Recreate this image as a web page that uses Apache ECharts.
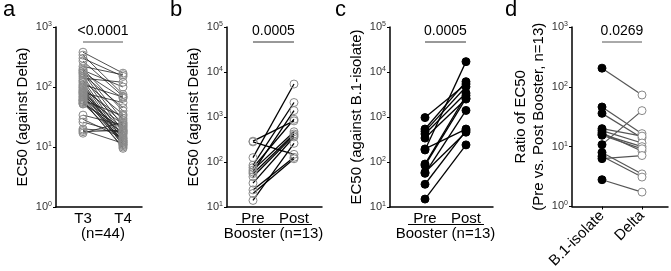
<!DOCTYPE html>
<html><head><meta charset="utf-8">
<script src="https://cdn.jsdelivr.net/npm/echarts@6/dist/echarts.min.js"></script>
<style>html,body{margin:0;padding:0;background:#fff}#c{width:671px;height:271px}</style>
</head><body><div id="c"></div>
<script>
// ---------- data ----------
const aCats = ['T3', 'T4'];
const aT3 = [380,340,300,270,220,200,190,185,175,170,160,150,140,130,125,118,110,105,100,97,92,88,85,82,80,77,74,70,68,65,62,60,57,55,53,52,34,29,26,20,19,18,17,60];
const aT4 = [170,75,150,70,160,40,100,28,65,22,45,18,120,15,35,13,68,12,25,11,30,14,10.5,20,55,16,12,24,11,19,13,33,10,17,12.5,21,23,14,17,18,11.5,19,26,9.5];

const bCats = ['Pre', 'Post'];
const bPre  = [290,280,125,85,75,66,60,55,47,34,24,20,14];
const bPost = [820,148,5400,2100,890,470,1390,420,390,360,127,118,260];

const cCats = ['Pre', 'Post'];
const cPre  = [970,540,480,420,340,195,185,90,84,59,56,32,15];
const cPost = [5400,6100,4700,3400,2500,540,17000,3000,2600,460,1400,500,240];

const dCats = ['B.1-isolate', 'Delta'];
const dB1    = [205,46,36,20,18.5,17,16,15.5,10.8,8,6.9,6.3,2.8];
const dDelta = [73,16.5,14,15,11.5,8.4,10,9.2,40,3.5,3.1,7.1,1.74];

const pValues = ['<0.0001', '0.0005', '0.0005', '0.0269'];
const panelLetters = ['a', 'b', 'c', 'd'];
const yTicks3 = [1, 10, 100, 1000];
const yTicks5 = [10, 100, 1000, 10000, 100000];
const yTitles = ['EC50 (against Delta)', 'EC50 (against Delta)', 'EC50 (against B.1-isolate)', 'Ratio of EC50\n(Pre vs. Post Booster, n=13)'];
const subLabels = ['(n=44)', 'Booster (n=13)', 'Booster (n=13)', ''];

// ---------- layout ----------
const FONT = 'Liberation Sans, Arial, sans-serif';
const TOP = 27, BOTTOM_Y = 207;
const panels = [
  {cats:aCats, pre:aT3, post:aT4, ticks:yTicks3, left:56, width:86, min:-0.675, max:1.475,
   preStyle:{fill:'rgba(0,0,0,0)', stroke:'#8a8a8a'}, postStyle:{fill:'rgba(0,0,0,0)', stroke:'#8a8a8a'},
   lineColor:'#222', lineWidth:0.8, bracketColor:'#555', nameGap:21},
  {cats:bCats, pre:bPre, post:bPost, ticks:yTicks5, left:227, width:95, min:-0.634, max:1.683,
   preStyle:{fill:'rgba(0,0,0,0)', stroke:'#8a8a8a'}, postStyle:{fill:'rgba(0,0,0,0)', stroke:'#8a8a8a'},
   lineColor:'#000', lineWidth:1.3, bracketColor:'#333', nameGap:24},
  {cats:cCats, pre:cPre, post:cPost, ticks:yTicks5, left:390, width:103, min:-0.854, max:1.659,
   preStyle:{fill:'#000', stroke:'#000'}, postStyle:{fill:'#000', stroke:'#000'},
   lineColor:'#000', lineWidth:1.3, bracketColor:'#333', nameGap:19},
  {cats:dCats, pre:dB1, post:dDelta, ticks:yTicks3, left:572, width:96, min:-0.75, max:1.65,
   preStyle:{fill:'#000', stroke:'#000'}, postStyle:{fill:'#fff', stroke:'#8a8a8a'},
   lineColor:'#555', lineWidth:1.2, bracketColor:'#555', nameGap:21, rotate:45}
];

const grid = [], xAxis = [], yAxis = [], series = [], graphic = [];
const letterX = [3, 170, 335, 505];

panels.forEach((p, i) => {
  grid.push({left:p.left, top:TOP, width:p.width, height:BOTTOM_Y - TOP});
  xAxis.push({
    gridIndex:i, type:'value', min:p.min, max:p.max,
    axisLine:{show:true, onZero:false, lineStyle:{color:'#000', width:1.5}},
    axisTick:{show:!!p.rotate, customValues:[0, 1], length:3, lineStyle:{color:'#000', width:1}},
    splitLine:{show:false},
    axisLabel:{
      customValues:[0, 1], formatter:v => p.cats[Math.round(v)],
      color:'#000', fontSize:15, fontFamily:FONT, margin:p.rotate ? 7 : 4,
      rotate:p.rotate || 0
    }
  });
  yAxis.push({
    gridIndex:i, type:'log', logBase:10, min:p.ticks[0], max:p.ticks[p.ticks.length - 1],
    axisLine:{show:true, onZero:false, lineStyle:{color:'#000', width:1.5}},
    axisTick:{show:true, customValues:p.ticks, length:3, lineStyle:{color:'#000', width:1}},
    minorTick:{show:false}, splitLine:{show:false},
    axisLabel:{
      customValues:p.ticks, margin:4, color:'#333', fontFamily:FONT,
      formatter:v => '{b|10}{s|' + Math.round(Math.log10(v)) + '}',
      rich:{b:{fontSize:11, fontFamily:FONT, color:'#333'}, s:{fontSize:7, fontFamily:FONT, color:'#333', verticalAlign:'top', padding:[0,0,6,0]}}
    },
    name:yTitles[i], nameLocation:'middle', nameGap:p.nameGap,
    nameTextStyle:{fontSize:15, fontFamily:FONT, color:'#000', lineHeight:18}
  });
  series.push({
    type:'lines', coordinateSystem:'cartesian2d', xAxisIndex:i, yAxisIndex:i, silent:true, z:2,
    lineStyle:{color:p.lineColor, width:p.lineWidth, opacity:1},
    data:p.pre.map((v, k) => ({coords:[[0, v], [1, p.post[k]]]}))
  });
  series.push({
    type:'scatter', xAxisIndex:i, yAxisIndex:i, symbol:'circle', symbolSize:8, z:3, silent:true,
    itemStyle:{color:p.preStyle.fill, borderColor:p.preStyle.stroke, borderWidth:1, opacity:1},
    data:p.pre.map(v => [0, v])
  });
  series.push({
    type:'scatter', xAxisIndex:i, yAxisIndex:i, symbol:'circle', symbolSize:8, z:3, silent:true,
    itemStyle:{color:p.postStyle.fill, borderColor:p.postStyle.stroke, borderWidth:1, opacity:1},
    data:p.post.map(v => [1, v])
  });

  // annotations (positions from axis geometry)
  const unit = p.width / (p.max - p.min);
  const x0 = p.left + (0 - p.min) * unit, x1 = p.left + (1 - p.min) * unit;
  graphic.push({type:'text', left:letterX[i], top:-1, style:{text:panelLetters[i], fontSize:22, fontFamily:FONT, fill:'#000'}});
  graphic.push({type:'line', shape:{x1:x0, y1:42, x2:x1, y2:42}, style:{stroke:p.bracketColor, lineWidth:1}});
  graphic.push({type:'text', x:(x0 + x1) / 2, y:31, style:{text:pValues[i], fontSize:14, fontFamily:FONT, fill:'#000', align:'center', verticalAlign:'middle'}});
  if (i === 0) {
    graphic.push({type:'text', x:(x0 + x1) / 2, y:234, style:{text:subLabels[i], fontSize:15, fontFamily:FONT, fill:'#000', align:'center', verticalAlign:'middle'}});
  } else if (i < 3) {
    graphic.push({type:'line', shape:{x1:x0 - 17, y1:224.5, x2:x1 + 18, y2:224.5}, style:{stroke:'#000', lineWidth:1}});
    graphic.push({type:'text', x:(x0 + x1) / 2, y:234, style:{text:subLabels[i], fontSize:15, fontFamily:FONT, fill:'#000', align:'center', verticalAlign:'middle'}});
  }
});

const chart = echarts.init(document.getElementById('c'), null, {renderer:'canvas'});
chart.setOption({animation:false, backgroundColor:'#fff', grid, xAxis, yAxis, series, graphic});
</script></body></html>
